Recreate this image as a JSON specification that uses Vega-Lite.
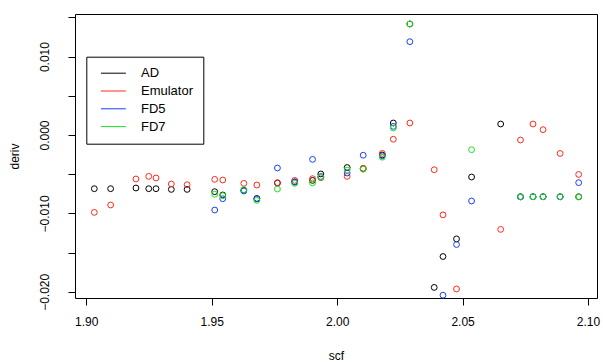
{
  "$schema": "https://vega.github.io/schema/vega-lite/v6.json",
  "width": 522,
  "height": 284,
  "autosize": "none",
  "padding": {"left": 75, "top": 14, "right": 6, "bottom": 64},
  "background": "white",
  "data": {"values": [
    {"scf":1.9032,"deriv":-0.00685,"method":"AD"},
    {"scf":1.9097,"deriv":-0.00685,"method":"AD"},
    {"scf":1.9198,"deriv":-0.00676,"method":"AD"},
    {"scf":1.9249,"deriv":-0.00685,"method":"AD"},
    {"scf":1.9278,"deriv":-0.00685,"method":"AD"},
    {"scf":1.9339,"deriv":-0.00694,"method":"AD"},
    {"scf":1.9402,"deriv":-0.00694,"method":"AD"},
    {"scf":1.9512,"deriv":-0.00723,"method":"AD"},
    {"scf":1.9544,"deriv":-0.00765,"method":"AD"},
    {"scf":1.9628,"deriv":-0.00704,"method":"AD"},
    {"scf":1.9680,"deriv":-0.00810,"method":"AD"},
    {"scf":1.9762,"deriv":-0.00612,"method":"AD"},
    {"scf":1.9831,"deriv":-0.00599,"method":"AD"},
    {"scf":1.9902,"deriv":-0.00579,"method":"AD"},
    {"scf":1.9935,"deriv":-0.00497,"method":"AD"},
    {"scf":2.0040,"deriv":-0.00415,"method":"AD"},
    {"scf":2.0104,"deriv":-0.00430,"method":"AD"},
    {"scf":2.0180,"deriv":-0.00255,"method":"AD"},
    {"scf":2.0224,"deriv":0.00153,"method":"AD"},
    {"scf":2.0290,"deriv":0.01416,"method":"AD"},
    {"scf":2.0387,"deriv":-0.01944,"method":"AD"},
    {"scf":2.0422,"deriv":-0.01550,"method":"AD"},
    {"scf":2.0476,"deriv":-0.01325,"method":"AD"},
    {"scf":2.0536,"deriv":-0.00536,"method":"AD"},
    {"scf":2.0652,"deriv":0.00140,"method":"AD"},
    {"scf":2.0731,"deriv":-0.00788,"method":"AD"},
    {"scf":2.0781,"deriv":-0.00788,"method":"AD"},
    {"scf":2.0821,"deriv":-0.00788,"method":"AD"},
    {"scf":2.0889,"deriv":-0.00788,"method":"AD"},
    {"scf":2.0963,"deriv":-0.00788,"method":"AD"},
    {"scf":1.9032,"deriv":-0.00987,"method":"Emulator"},
    {"scf":1.9097,"deriv":-0.00893,"method":"Emulator"},
    {"scf":1.9198,"deriv":-0.00561,"method":"Emulator"},
    {"scf":1.9249,"deriv":-0.00528,"method":"Emulator"},
    {"scf":1.9278,"deriv":-0.00548,"method":"Emulator"},
    {"scf":1.9339,"deriv":-0.00625,"method":"Emulator"},
    {"scf":1.9402,"deriv":-0.00634,"method":"Emulator"},
    {"scf":1.9512,"deriv":-0.00566,"method":"Emulator"},
    {"scf":1.9544,"deriv":-0.00574,"method":"Emulator"},
    {"scf":1.9628,"deriv":-0.00617,"method":"Emulator"},
    {"scf":1.9680,"deriv":-0.00638,"method":"Emulator"},
    {"scf":1.9762,"deriv":-0.00608,"method":"Emulator"},
    {"scf":1.9831,"deriv":-0.00579,"method":"Emulator"},
    {"scf":1.9902,"deriv":-0.00557,"method":"Emulator"},
    {"scf":1.9935,"deriv":-0.00545,"method":"Emulator"},
    {"scf":2.0040,"deriv":-0.00528,"method":"Emulator"},
    {"scf":2.0104,"deriv":-0.00425,"method":"Emulator"},
    {"scf":2.0180,"deriv":-0.00235,"method":"Emulator"},
    {"scf":2.0224,"deriv":-0.00054,"method":"Emulator"},
    {"scf":2.0290,"deriv":0.00153,"method":"Emulator"},
    {"scf":2.0387,"deriv":-0.00443,"method":"Emulator"},
    {"scf":2.0422,"deriv":-0.01019,"method":"Emulator"},
    {"scf":2.0476,"deriv":-0.01964,"method":"Emulator"},
    {"scf":2.0652,"deriv":-0.01204,"method":"Emulator"},
    {"scf":2.0731,"deriv":-0.00064,"method":"Emulator"},
    {"scf":2.0781,"deriv":0.00140,"method":"Emulator"},
    {"scf":2.0821,"deriv":0.00068,"method":"Emulator"},
    {"scf":2.0889,"deriv":-0.00236,"method":"Emulator"},
    {"scf":2.0963,"deriv":-0.00503,"method":"Emulator"},
    {"scf":1.9512,"deriv":-0.00957,"method":"FD5"},
    {"scf":1.9544,"deriv":-0.00813,"method":"FD5"},
    {"scf":1.9628,"deriv":-0.00714,"method":"FD5"},
    {"scf":1.9680,"deriv":-0.00815,"method":"FD5"},
    {"scf":1.9762,"deriv":-0.00421,"method":"FD5"},
    {"scf":1.9831,"deriv":-0.00599,"method":"FD5"},
    {"scf":1.9902,"deriv":-0.00311,"method":"FD5"},
    {"scf":1.9935,"deriv":-0.00530,"method":"FD5"},
    {"scf":2.0040,"deriv":-0.00485,"method":"FD5"},
    {"scf":2.0104,"deriv":-0.00258,"method":"FD5"},
    {"scf":2.0180,"deriv":-0.00265,"method":"FD5"},
    {"scf":2.0224,"deriv":0.00110,"method":"FD5"},
    {"scf":2.0290,"deriv":0.01190,"method":"FD5"},
    {"scf":2.0422,"deriv":-0.02043,"method":"FD5"},
    {"scf":2.0476,"deriv":-0.01397,"method":"FD5"},
    {"scf":2.0536,"deriv":-0.00842,"method":"FD5"},
    {"scf":2.0731,"deriv":-0.00788,"method":"FD5"},
    {"scf":2.0781,"deriv":-0.00788,"method":"FD5"},
    {"scf":2.0821,"deriv":-0.00788,"method":"FD5"},
    {"scf":2.0889,"deriv":-0.00788,"method":"FD5"},
    {"scf":2.0963,"deriv":-0.00608,"method":"FD5"},
    {"scf":1.9512,"deriv":-0.00755,"method":"FD7"},
    {"scf":1.9544,"deriv":-0.00774,"method":"FD7"},
    {"scf":1.9628,"deriv":-0.00698,"method":"FD7"},
    {"scf":1.9680,"deriv":-0.00834,"method":"FD7"},
    {"scf":1.9762,"deriv":-0.00689,"method":"FD7"},
    {"scf":1.9831,"deriv":-0.00617,"method":"FD7"},
    {"scf":1.9902,"deriv":-0.00611,"method":"FD7"},
    {"scf":1.9935,"deriv":-0.00538,"method":"FD7"},
    {"scf":2.0040,"deriv":-0.00448,"method":"FD7"},
    {"scf":2.0104,"deriv":-0.00436,"method":"FD7"},
    {"scf":2.0180,"deriv":-0.00283,"method":"FD7"},
    {"scf":2.0224,"deriv":0.00089,"method":"FD7"},
    {"scf":2.0290,"deriv":0.01416,"method":"FD7"},
    {"scf":2.0536,"deriv":-0.00188,"method":"FD7"},
    {"scf":2.0731,"deriv":-0.00788,"method":"FD7"},
    {"scf":2.0781,"deriv":-0.00788,"method":"FD7"},
    {"scf":2.0821,"deriv":-0.00788,"method":"FD7"},
    {"scf":2.0889,"deriv":-0.00788,"method":"FD7"},
    {"scf":2.0963,"deriv":-0.00788,"method":"FD7"}
  ]},
  "mark": {"type": "point", "filled": false, "size": 34, "strokeWidth": 1, "opacity": 1},
  "encoding": {
    "x": {
      "field": "scf", "type": "quantitative", "title": "scf",
      "scale": {"domain": [1.8955, 2.1036], "nice": false, "zero": false},
      "axis": {"values": [1.9, 1.95, 2.0, 2.05, 2.1], "format": ".2f", "tickSize": 7, "labelPadding": 11, "titlePadding": 23}
    },
    "y": {
      "field": "deriv", "type": "quantitative", "title": "deriv",
      "scale": {"domain": [-0.02079, 0.01543], "nice": false, "zero": false},
      "axis": {
        "values": [-0.02, -0.015, -0.01, -0.005, 0, 0.005, 0.01, 0.015],
        "labelExpr": "abs(round(datum.value*1000)) % 10 == 0 ? format(datum.value, '.3f') : ''",
        "labelAngle": -90, "labelAlign": "center", "labelBaseline": "bottom",
        "tickSize": 7, "labelPadding": 16.5, "titlePadding": 17.5, "labelOverlap": false
      }
    },
    "color": {
      "field": "method", "type": "nominal",
      "scale": {"domain": ["AD", "Emulator", "FD5", "FD7"], "range": ["#000000", "#ff2a1a", "#1a3cff", "#1ee01e"]},
      "legend": {
        "title": null, "orient": "none", "legendX": 11.3, "legendY": 42.7,
        "symbolType": "M-0.45,0H5.55", "symbolSize": 69, "symbolStrokeWidth": 1,
        "labelOffset": 31.7, "labelFontSize": 13, "rowPadding": 3.8,
        "padding": 10, "strokeColor": "#000000", "fillColor": "white"
      }
    }
  },
  "config": {
    "font": "Liberation Sans",
    "view": {"stroke": "#000000", "strokeWidth": 1},
    "axis": {
      "grid": false, "domain": false, "tickColor": "#000000", "tickWidth": 1,
      "labelColor": "#000000", "labelFont": "Liberation Sans", "labelFontSize": 12,
      "titleColor": "#000000", "titleFont": "Liberation Sans", "titleFontSize": 12, "titleFontWeight": "normal"
    },
    "legend": {"labelColor": "#000000", "labelFont": "Liberation Sans"}
  }
}
